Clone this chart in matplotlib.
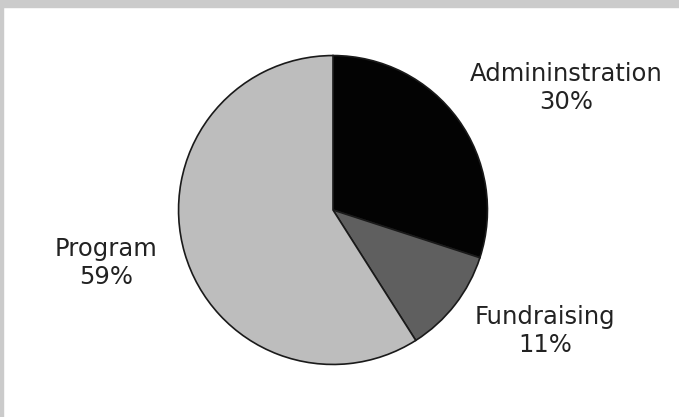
import matplotlib.pyplot as plt
from matplotlib.patches import Rectangle

# slice data, clockwise from 12 o'clock
labels = ["Admininstration", "Fundraising", "Program"]
shares = [30, 11, 59]
colors = ["#030303", "#5f5f5f", "#bdbdbd"]

W, H = 679, 417
fig = plt.figure(figsize=(W / 100, H / 100), dpi=100)
fig.patch.set_facecolor("white")

# grey frame on the top and left edges
fig.patches.append(Rectangle((0, 1 - 7 / H), 1, 7 / H, transform=fig.transFigure,
                             color="#cbcbcb", zorder=0))
fig.patches.append(Rectangle((0, 0), 3 / W, 1, transform=fig.transFigure,
                             color="#cbcbcb", zorder=0))

# pie centre (333, 210) px, radius 156 px
cx, cy, r = 333, 210, 156
ax = fig.add_axes([(cx - r) / W, 1 - (cy + r) / H, 2 * r / W, 2 * r / H])
wedges, _ = ax.pie(shares, colors=colors, startangle=90, counterclock=False,
                   radius=1.0,
                   wedgeprops=dict(edgecolor="#1a1a1a", linewidth=1.2))
ax.set_xlim(-1.01, 1.01)
ax.set_ylim(-1.01, 1.01)
ax.set_aspect("equal")
ax.axis("off")

# label centres in pixels
label_pos = [(566, 88), (545, 331), (106, 263)]
for name, val, (px, py) in zip(labels, shares, label_pos):
    fig.text(px / W, 1 - py / H, f"{name}\n{val}%", ha="center", va="center",
             fontsize=17.5, color="#222222", family="DejaVu Sans",
             linespacing=1.22)

fig.savefig("out.png", dpi=100, facecolor="white")
